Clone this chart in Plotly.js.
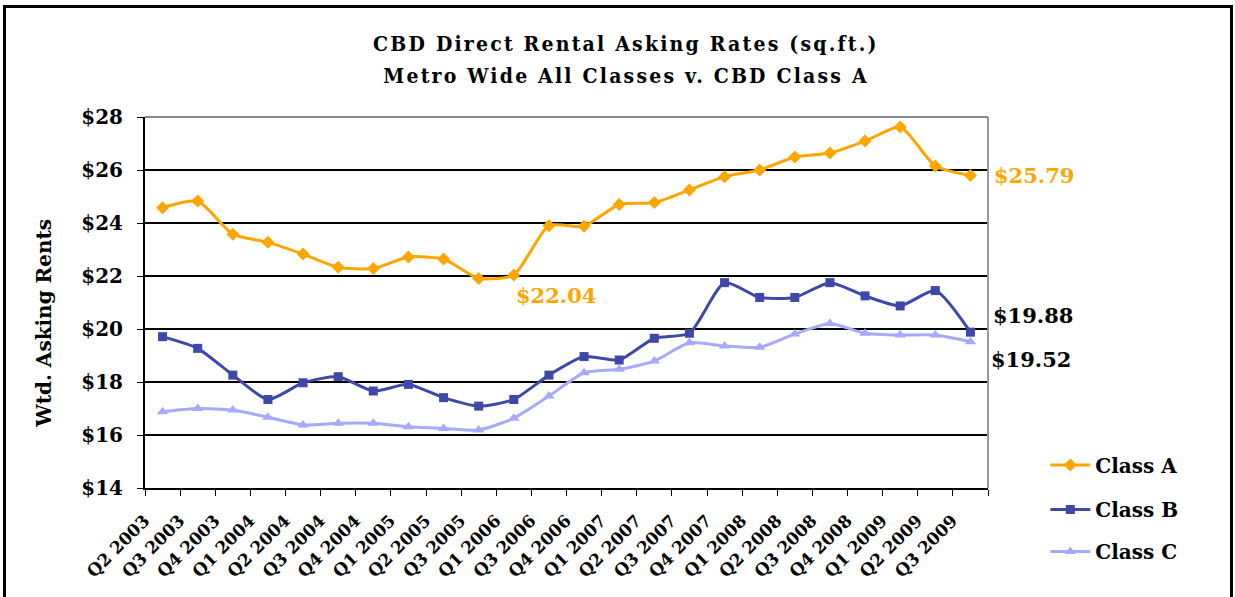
<!DOCTYPE html>
<html><head><meta charset="utf-8">
<script src="https://cdn.plot.ly/plotly-3.0.1.min.js"></script>
<style>
body{margin:0;background:#fff;}
#frame{position:absolute;left:3px;top:5px;width:1224px;height:600px;border:3px solid #000;pointer-events:none;z-index:10;}
#chart{position:absolute;left:0;top:0;width:1235px;height:597px;}
g.annotation[data-index="0"] text, g.annotation[data-index="1"] text{letter-spacing:2.2px;}
</style></head>
<body><div id="chart"></div><div id="frame"></div>
<script>
const quarters = ["Q2 2003","Q3 2003","Q4 2003","Q1 2004","Q2 2004","Q3 2004","Q4 2004","Q1 2005","Q2 2005","Q3 2005","Q1 2006","Q3 2006","Q4 2006","Q1 2007","Q2 2007","Q3 2007","Q4 2007","Q1 2008","Q2 2008","Q3 2008","Q4 2008","Q1 2009","Q2 2009","Q3 2009"];
const classA = [24.58,24.83,23.58,23.27,22.83,22.33,22.28,22.72,22.64,21.91,22.04,23.90,23.88,24.70,24.77,25.25,25.75,26.00,26.49,26.64,27.09,27.62,26.15,25.79];
const classB = [19.71,19.27,18.26,17.34,17.97,18.20,17.66,17.91,17.41,17.09,17.34,18.26,18.96,18.83,19.65,19.84,21.75,21.19,21.19,21.75,21.25,20.87,21.45,19.88];
const classC = [16.88,17.00,16.94,16.67,16.38,16.44,16.44,16.31,16.25,16.19,16.63,17.47,18.35,18.48,18.79,19.48,19.36,19.31,19.81,20.21,19.84,19.77,19.77,19.52];
const yTicks = [14,16,18,20,22,24,26,28];
const yTickText = ["$14","$16","$18","$20","$22","$24","$26","$28"];
const titleLines = ["CBD Direct Rental Asking Rates (sq.ft.)","Metro Wide All Classes v. CBD Class A"];
const yTitle = "Wtd. Asking Rents";

const SERIF = "DejaVu Serif, Liberation Serif, serif";
const COND = "DejaVu Serif Condensed, DejaVu Serif, serif";
const cA = "#FFA500", cB = "#3F48A8", cC = "#A8A8FF";

const traces = [
 {x:quarters,y:classA,name:"Class A",type:"scatter",mode:"lines+markers",legend:"legend",
  line:{color:cA,width:3,shape:"spline",smoothing:0.6},marker:{symbol:"diamond",size:10,color:cA}},
 {x:quarters,y:classB,name:"Class B",type:"scatter",mode:"lines+markers",legend:"legend2",
  line:{color:cB,width:3,shape:"spline",smoothing:0.6},marker:{symbol:"square",size:9,color:cB}},
 {x:quarters,y:classC,name:"Class C",type:"scatter",mode:"lines+markers",legend:"legend3",
  line:{color:cC,width:3,shape:"spline",smoothing:0.6},marker:{symbol:"triangle-up",size:10,color:cC}}
];

const legFont = {family:SERIF,size:20,color:"#000",weight:"bold"};
const legBase = {xref:"paper",yref:"paper",xanchor:"left",yanchor:"middle",bgcolor:"rgba(0,0,0,0)",font:legFont,itemwidth:40};

const layout = {
 width:1235,height:597,
 margin:{l:145,r:247,t:117,b:109},
 paper_bgcolor:"#fff",plot_bgcolor:"#fff",
 xaxis:{type:"category",tickangle:-45,tickson:"boundaries",ticks:"outside",ticklen:6,tickcolor:"#000",tickwidth:1,
   showline:true,linecolor:"#000",linewidth:2,showgrid:false,zeroline:false,
   ticklabelshift:-18,ticklabelstandoff:14,
   tickfont:{family:SERIF,size:17,color:"#000",weight:"bold"},range:[-0.5,23.5],fixedrange:true},
 yaxis:{range:[14,28],tickvals:yTicks,ticktext:yTickText,ticks:"outside",ticklen:6,tickcolor:"#000",
   showline:true,linecolor:"#000",linewidth:2,showgrid:true,gridcolor:"#000",gridwidth:2,zeroline:false,
   ticklabelstandoff:10,
   tickfont:{family:SERIF,size:20,color:"#000",weight:"bold"}},
 legend:Object.assign({},legBase,{x:1.068,y:0.062}),
 legend2:Object.assign({},legBase,{x:1.068,y:-0.058}),
 legend3:Object.assign({},legBase,{x:1.068,y:-0.171}),
 shapes:[
  {type:"line",xref:"paper",yref:"paper",x0:1,x1:1,y0:0,y1:1,line:{color:"#999",width:2}},
  {type:"line",xref:"paper",yref:"paper",x0:0,x1:1,y0:1,y1:1,line:{color:"#888",width:2}}
 ],
 annotations:[
  {xref:"paper",yref:"paper",x:0.57,y:1.199,text:titleLines[0],showarrow:false,xanchor:"center",yanchor:"middle",
   font:{family:COND,size:21,color:"#000",weight:"bold"}},
  {xref:"paper",yref:"paper",x:0.57,y:1.113,text:titleLines[1],showarrow:false,xanchor:"center",yanchor:"middle",
   font:{family:COND,size:21,color:"#000",weight:"bold"}},
  {x:10,y:22.04,xref:"x",yref:"y",text:"$22.04",showarrow:false,xanchor:"left",yanchor:"top",xshift:0,yshift:-6,
   font:{family:SERIF,size:21,color:cA,weight:"bold"}},
  {xref:"paper",yref:"y",x:1.005,y:25.79,text:"$25.79",showarrow:false,xanchor:"left",
   font:{family:SERIF,size:21,color:cA,weight:"bold"}},
  {xref:"paper",yref:"y",x:1.004,y:20.5,text:"$19.88",showarrow:false,xanchor:"left",
   font:{family:SERIF,size:21,color:"#000",weight:"bold"}},
  {xref:"paper",yref:"y",x:1.001,y:18.85,text:"$19.52",showarrow:false,xanchor:"left",
   font:{family:SERIF,size:21,color:"#000",weight:"bold"}},
  {xref:"paper",yref:"paper",x:-0.12,y:0.445,text:yTitle,textangle:-90,showarrow:false,xanchor:"center",yanchor:"middle",
   font:{family:SERIF,size:20,color:"#000",weight:"bold"}}
 ],
 showlegend:true
};
Plotly.newPlot("chart",traces,layout,{displayModeBar:false,staticPlot:true});
</script></body></html>
